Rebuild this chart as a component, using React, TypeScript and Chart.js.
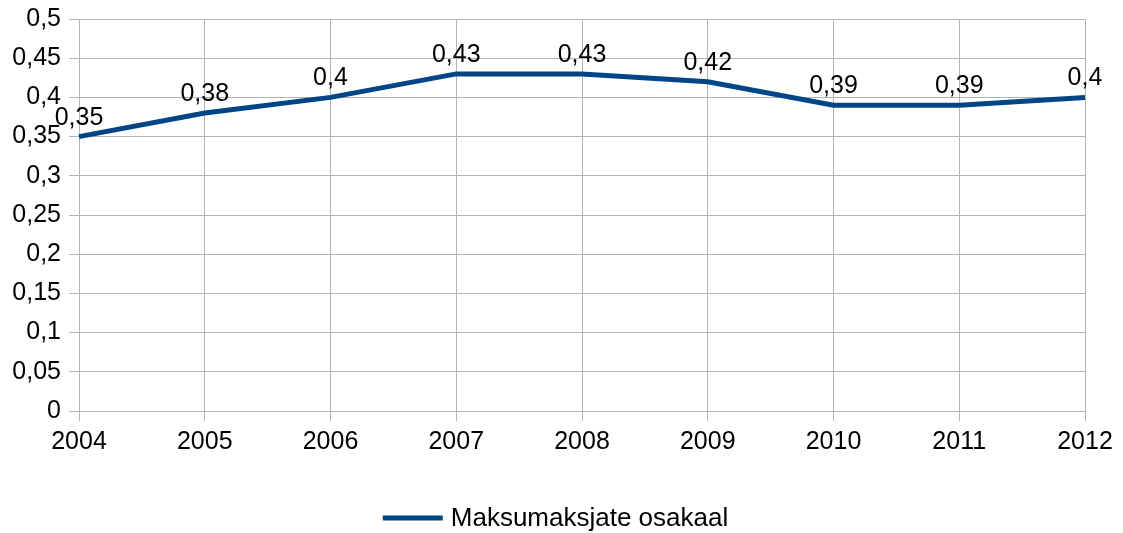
import React, { useEffect, useRef } from "react";
import { Chart, registerables } from "chart.js";

Chart.register(...registerables);

const years = ["2004", "2005", "2006", "2007", "2008", "2009", "2010", "2011", "2012"];
const shareValues = [0.35, 0.38, 0.4, 0.43, 0.43, 0.42, 0.39, 0.39, 0.4];
const seriesName = "Maksumaksjate osakaal";
const yTicks = [0, 0.05, 0.1, 0.15, 0.2, 0.25, 0.3, 0.35, 0.4, 0.45, 0.5];

const LINE_COLOR = "#004586";
const GRID_COLOR = "#b3b3b3";
const FONT_FAMILY = "'Liberation Sans', Arial, sans-serif";
const FONT_SIZE = 25;

const fmt = (v: number) => String(Math.round(v * 100) / 100).replace(".", ",");

const dataLabelPlugin = {
  id: "dataLabels",
  afterDatasetsDraw(chart: any) {
    const ctx = chart.ctx;
    const meta = chart.getDatasetMeta(0);
    ctx.save();
    ctx.font = `${FONT_SIZE}px ${FONT_FAMILY}`;
    ctx.fillStyle = "#000000";
    ctx.textAlign = "center";
    ctx.textBaseline = "alphabetic";
    meta.data.forEach((pt: any, i: number) => {
      ctx.fillText(fmt(shareValues[i]), pt.x, pt.y - 12);
    });
    ctx.restore();
  },
};

const legendPlugin = {
  id: "bottomLegend",
  afterDraw(chart: any) {
    const ctx = chart.ctx;
    const ds = chart.data.datasets[0];
    ctx.save();
    ctx.font = `${FONT_SIZE + 1}px ${FONT_FAMILY}`;
    const textW = ctx.measureText(ds.label).width;
    const lineW = 60;
    const gap = 8;
    const total = lineW + gap + textW;
    const startX = chart.width / 2 - 6 - total / 2;
    const y = chart.height - 15;
    ctx.strokeStyle = ds.borderColor;
    ctx.lineWidth = 5;
    ctx.beginPath();
    ctx.moveTo(startX, y);
    ctx.lineTo(startX + lineW, y);
    ctx.stroke();
    ctx.fillStyle = "#000000";
    ctx.textAlign = "left";
    ctx.textBaseline = "middle";
    ctx.fillText(ds.label, startX + lineW + gap, y + 1);
    ctx.restore();
  },
};

export default function App() {
  const ref = useRef<HTMLCanvasElement>(null);
  useEffect(() => {
    document.body.style.margin = "0";
    const chart = new Chart(ref.current!, {
      type: "line",
      data: {
        labels: years,
        datasets: [
          {
            label: seriesName,
            data: shareValues,
            borderColor: LINE_COLOR,
            backgroundColor: LINE_COLOR,
            borderWidth: 5,
            pointRadius: 0,
            pointHoverRadius: 0,
            tension: 0,
          },
        ],
      },
      options: {
        animation: false,
        responsive: false,
        maintainAspectRatio: false,
        layout: { padding: { left: 0, right: 38, top: 0, bottom: 60 } },
        scales: {
          x: {
            offset: false,
            grid: { color: GRID_COLOR, lineWidth: 1, tickLength: 10, drawTicks: true },
            border: { color: GRID_COLOR },
            ticks: {
              color: "#000000",
              font: { family: FONT_FAMILY, size: FONT_SIZE },
              padding: 6,
              maxRotation: 0,
              autoSkip: false,
            },
            afterFit: (scale: any) => {
              scale.height = 62;
            },
          },
          y: {
            min: 0,
            max: 0.5,
            afterBuildTicks: (scale: any) => {
              scale.ticks = yTicks.map((v) => ({ value: v }));
            },
            grid: { color: GRID_COLOR, lineWidth: 1, tickLength: 10 },
            border: { color: GRID_COLOR },
            ticks: {
              color: "#000000",
              font: { family: FONT_FAMILY, size: FONT_SIZE },
              padding: 8,
              callback: (v: any) => fmt(Number(v)),
            },
            afterFit: (scale: any) => {
              scale.width = 79;
              scale.paddingTop = 19;
            },
          },
        },
        plugins: {
          legend: { display: false },
          tooltip: { enabled: false },
        },
      },
      plugins: [dataLabelPlugin, legendPlugin],
    });
    return () => chart.destroy();
  }, []);
  return (
    <div style={{ width: 1123, height: 533 }}>
      <canvas ref={ref} width={1123} height={533} style={{ display: "block" }} />
    </div>
  );
}
